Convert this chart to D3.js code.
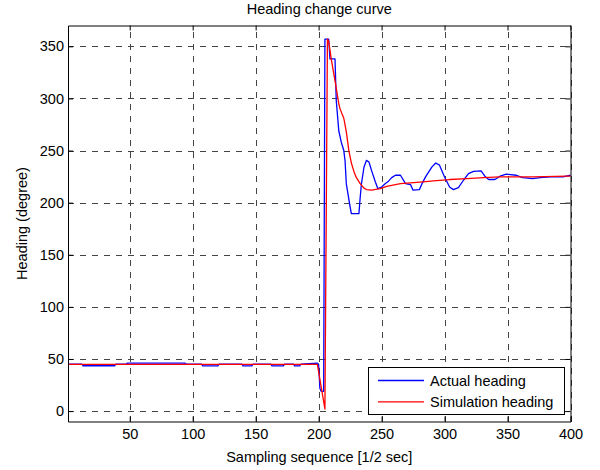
<!DOCTYPE html>
<html>
<head>
<meta charset="utf-8">
<script src="https://cdn.jsdelivr.net/npm/d3@7"></script>
<style>
  html, body { margin: 0; padding: 0; background: #fff; }
  svg { display: block; }
  text { font-family: "Liberation Sans", Arial, Helvetica, sans-serif; }
</style>
</head>
<body>
<svg id="chart" width="600" height="470"></svg>
<script>
// ---- Data ----
const title = "Heading change curve";
const xLabel = "Sampling sequence [1/2 sec]";
const yLabel = "Heading (degree)";
const xTicks = [50, 100, 150, 200, 250, 300, 350, 400];
const yTicks = [0, 50, 100, 150, 200, 250, 300, 350];
const seriesNames = ["Actual heading", "Simulation heading"];
const seriesColors = ["#0000ff", "#ff0000"];

const actualX = [1, 12, 13, 38, 39, 47, 48, 94, 95, 107, 108, 120, 121, 139, 140, 147, 148, 162, 163, 172, 173, 180, 181, 185, 186, 199, 200, 201, 202, 204, 205, 208, 209, 213, 214, 216, 218, 220, 221, 222, 225, 226, 232, 233, 234, 236, 238, 240, 242, 245, 247, 250, 253, 255, 258, 261, 265, 269, 273, 275, 280, 282, 285, 290, 293, 296, 300, 304, 307, 311, 315, 319, 323, 329, 332, 335, 340, 344, 349, 357, 362, 370, 376, 384, 394, 400];
const actualY = [45, 45, 43.5, 43.5, 45, 45, 46, 46, 45, 45, 43.3, 43.3, 45, 45, 43.3, 43.3, 45, 45, 43.3, 43.3, 45, 45, 43.3, 43.3, 45, 46, 45, 22, 19, 19, 357, 357, 338, 338, 298, 269, 258, 250, 240, 218, 196, 189.5, 189.5, 205, 218, 234, 240.6, 239, 231, 220, 213.5, 215, 218.3, 220, 224, 226.3, 226.3, 218.3, 217.3, 212, 212.5, 218, 225, 234.3, 238.1, 236, 224.7, 215, 212.5, 214.4, 221.5, 227.9, 230.1, 230.5, 225.4, 222.2, 222.2, 225.4, 227.3, 226.3, 224.1, 223.1, 224.1, 224.7, 224.7, 226.3];

const simX = [1, 199, 205, 207, 208, 210, 213, 216, 217, 220, 222, 224, 226, 228, 230, 233, 236, 238, 242, 249, 254, 265, 273, 283, 291, 304, 318, 331, 344, 370, 397, 400];
const simY = [44.8, 44.8, 2, 357, 355, 338, 317, 295, 290, 281, 268, 250, 238, 230, 224, 218.3, 214, 212.6, 212, 213.5, 215.7, 218.3, 218.9, 219.9, 220.9, 222.2, 223.1, 224.1, 224.7, 224.7, 225.4, 225.4];

// ---- Layout ----
const W = 600, H = 470;
const m = { left: 68, right: 570.5, top: 25.5, bottom: 421.5 };
const FS = 14.5;

const svg = d3.select("#chart");

const x = d3.scaleLinear().domain([1, 400]).range([m.left, m.right]);
const y = d3.scaleLinear().domain([-10, 370]).range([m.bottom, m.top]);

// Plot background
svg.append("rect").attr("x", m.left).attr("y", m.top)
  .attr("width", m.right - m.left).attr("height", m.bottom - m.top)
  .attr("fill", "#fff");

// Grid
const grid = svg.append("g").attr("stroke", "#444").attr("stroke-width", 1)
  .attr("stroke-dasharray", "6,6").attr("shape-rendering", "crispEdges");
grid.selectAll("line.vx").data(xTicks).enter().append("line")
  .attr("x1", d => Math.round(x(d)) + 0.5).attr("x2", d => Math.round(x(d)) + 0.5)
  .attr("y1", m.bottom).attr("y2", m.top);
grid.selectAll("line.hy").data(yTicks).enter().append("line")
  .attr("y1", d => Math.round(y(d)) + 0.5).attr("y2", d => Math.round(y(d)) + 0.5)
  .attr("x1", m.left).attr("x2", m.right);

// Series
const line = d3.line().x(d => x(d[0])).y(d => y(d[1]));
const actual = actualX.map((v, i) => [v, actualY[i]]);
const sim = simX.map((v, i) => [v, simY[i]]);
svg.append("path").datum(actual).attr("d", line).attr("fill", "none")
  .attr("stroke", seriesColors[0]).attr("stroke-width", 1.3).attr("stroke-linejoin", "round");
svg.append("path").datum(sim).attr("d", line).attr("fill", "none")
  .attr("stroke", seriesColors[1]).attr("stroke-width", 1.3).attr("stroke-linejoin", "round");

// Axes
function styleAxis(g) {
  g.selectAll("path.domain").attr("stroke", "#000").attr("stroke-width", 1);
  g.selectAll(".tick line").attr("stroke", "#000");
  g.selectAll("text").attr("font-size", FS).attr("fill", "#000")
    .style("font-family", '"Liberation Sans", Arial, Helvetica, sans-serif');
}
const xAxisB = d3.axisBottom(x).tickValues(xTicks).tickSizeInner(-5).tickSizeOuter(0).tickPadding(7.5);
const xAxisT = d3.axisTop(x).tickValues(xTicks).tickSizeInner(-5).tickSizeOuter(0).tickFormat("");
const yAxisL = d3.axisLeft(y).tickValues(yTicks).tickSizeInner(-5).tickSizeOuter(0).tickPadding(4);
const yAxisR = d3.axisRight(y).tickValues(yTicks).tickSizeInner(-5).tickSizeOuter(0).tickFormat("");

svg.append("g").attr("transform", `translate(0,${m.bottom})`).call(xAxisB).call(styleAxis);
svg.append("g").attr("transform", `translate(0,${m.top})`).call(xAxisT).call(styleAxis);
svg.append("g").attr("transform", `translate(${m.left},0)`).call(yAxisL).call(styleAxis);
svg.append("g").attr("transform", `translate(${m.right},0)`).call(yAxisR).call(styleAxis);

// Title & labels
svg.append("text").attr("x", (m.left + m.right) / 2).attr("y", 14)
  .attr("text-anchor", "middle").attr("font-size", FS).text(title);
svg.append("text").attr("x", (m.left + m.right) / 2).attr("y", 462)
  .attr("text-anchor", "middle").attr("font-size", FS).text(xLabel);
svg.append("text").attr("transform", `translate(27,${(m.top + m.bottom) / 2}) rotate(-90)`)
  .attr("text-anchor", "middle").attr("font-size", FS).text(yLabel);

// Legend
const lg = svg.append("g");
const lx = 368.5, ly = 367.5, lw = 196, lh = 47;
lg.append("rect").attr("x", lx).attr("y", ly).attr("width", lw).attr("height", lh)
  .attr("fill", "#fff").attr("stroke", "#000").attr("stroke-width", 1);
seriesNames.forEach((name, i) => {
  const yy = 380.5 + i * 21.3;
  lg.append("line").attr("x1", 378).attr("x2", 424).attr("y1", yy).attr("y2", yy)
    .attr("stroke", seriesColors[i]).attr("stroke-width", 1.3);
  lg.append("text").attr("x", 430).attr("y", yy).attr("dy", "0.36em")
    .attr("font-size", FS).text(name);
});
</script>
</body>
</html>
